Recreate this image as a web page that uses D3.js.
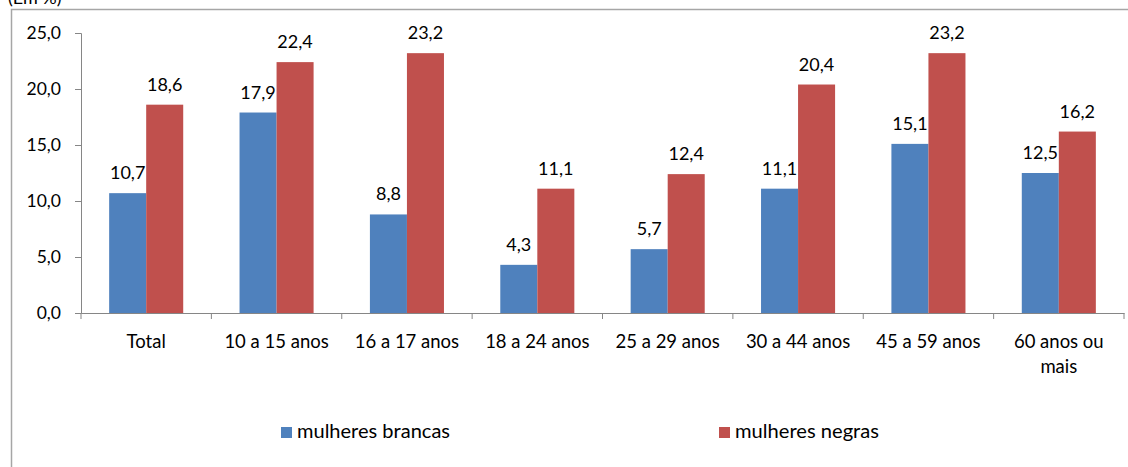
<!DOCTYPE html>
<html>
<head>
<meta charset="utf-8">
<script src="https://cdn.jsdelivr.net/npm/d3@7"></script>
<style>
  html, body { margin: 0; padding: 0; background: #fff; }
  svg { display: block; }
  text { font-family: Lato, "Open Sans", sans-serif; fill: #000; }
</style>
</head>
<body>
<svg id="chart" width="1128" height="467"></svg>
<script>
// Age groups and rates (%) for white and black women
const categories = ["Total", "10 a 15 anos", "16 a 17 anos", "18 a 24 anos", "25 a 29 anos", "30 a 44 anos", "45 a 59 anos", "60 anos ou mais"];
const mulheresBrancas = [10.7, 17.9, 8.8, 4.3, 5.7, 11.1, 15.1, 12.5];
const mulheresNegras = [18.6, 22.4, 23.2, 11.1, 12.4, 20.4, 23.2, 16.2];
const seriesNames = ["mulheres brancas", "mulheres negras"];
const yTicks = [0, 5, 10, 15, 20, 25];

const colors = ["#4F81BD", "#C0504D"];
const fmt = v => v.toFixed(1).replace(".", ",");

const svg = d3.select("#chart");

// outer frame
svg.append("rect")
  .attr("x", 11.5).attr("y", 9.5)
  .attr("width", 1128).attr("height", 500)
  .attr("fill", "none").attr("stroke", "#a6a6a6").attr("stroke-width", 1.5);

// unit caption, partly above the top edge
svg.append("text").attr("x", 8).attr("y", 4)
  .attr("font-size", 18).text("(Em %)");

const plot = { left: 81, right: 1124, top: 33, bottom: 313 };

const x = d3.scaleBand().domain(categories).range([plot.left, plot.right]).padding(0);
const y = d3.scaleLinear().domain([0, 25]).range([plot.bottom, plot.top]);
const barW = x.bandwidth() * 0.284;

// y axis
const yAxis = svg.append("g").attr("transform", `translate(${plot.left},0)`)
  .call(d3.axisLeft(y).tickValues(yTicks).tickFormat(fmt).tickSize(6).tickPadding(14));
yAxis.select(".domain").attr("stroke", "#868686");
yAxis.selectAll(".tick line").attr("stroke", "#868686");
yAxis.selectAll(".tick text").attr("font-size", 17.5).attr("font-family", "Lato, sans-serif").attr("fill", "#000");

// bars
const groups = svg.append("g").selectAll("g").data(categories).join("g");
[mulheresBrancas, mulheresNegras].forEach((vals, s) => {
  groups.append("rect")
    .attr("x", (d) => x(d) + x.bandwidth() / 2 + (s - 1) * barW)
    .attr("y", (d, i) => y(vals[i]))
    .attr("width", barW)
    .attr("height", (d, i) => y(0) - y(vals[i]))
    .attr("fill", colors[s]);
  groups.append("text")
    .attr("x", (d) => x(d) + x.bandwidth() / 2 + (s - 0.5) * barW)
    .attr("y", (d, i) => y(vals[i]) - 14)
    .attr("text-anchor", "middle")
    .attr("font-size", 18)
    .text((d, i) => fmt(vals[i]));
});

// x axis
const xAxis = svg.append("g").attr("transform", `translate(0,${plot.bottom})`)
  .call(d3.axisBottom(x).tickSize(0).tickFormat(""));
xAxis.select(".domain").attr("stroke", "#868686");
svg.append("g").selectAll("line")
  .data(d3.range(categories.length + 1))
  .join("line")
  .attr("x1", i => plot.left + i * x.step()).attr("x2", i => plot.left + i * x.step())
  .attr("y1", plot.bottom).attr("y2", plot.bottom + 6)
  .attr("stroke", "#868686");

// category labels, wrapped like the last one
const wrapped = { "60 anos ou mais": ["60 anos ou", "mais"] };
const lab = svg.append("g").selectAll("text").data(categories).join("text")
  .attr("x", d => x(d) + x.bandwidth() / 2)
  .attr("y", 348)
  .attr("text-anchor", "middle")
  .attr("font-size", 18.5);
lab.each(function (d) {
  const lines = wrapped[d] || [d];
  d3.select(this).selectAll("tspan").data(lines).join("tspan")
    .attr("x", x(d) + x.bandwidth() / 2)
    .attr("dy", (l, i) => i === 0 ? 0 : 25)
    .text(l => l);
});

// legend
const legendX = [281, 719];
const legendW = [153, 144];
seriesNames.forEach((name, s) => {
  svg.append("rect").attr("x", legendX[s]).attr("y", 427)
    .attr("width", 11).attr("height", 11).attr("fill", colors[s]);
  svg.append("text").attr("x", legendX[s] + 16).attr("y", 438)
    .attr("font-size", 18.5)
    .attr("textLength", legendW[s]).attr("lengthAdjust", "spacingAndGlyphs")
    .text(name);
});
</script>
</body>
</html>
